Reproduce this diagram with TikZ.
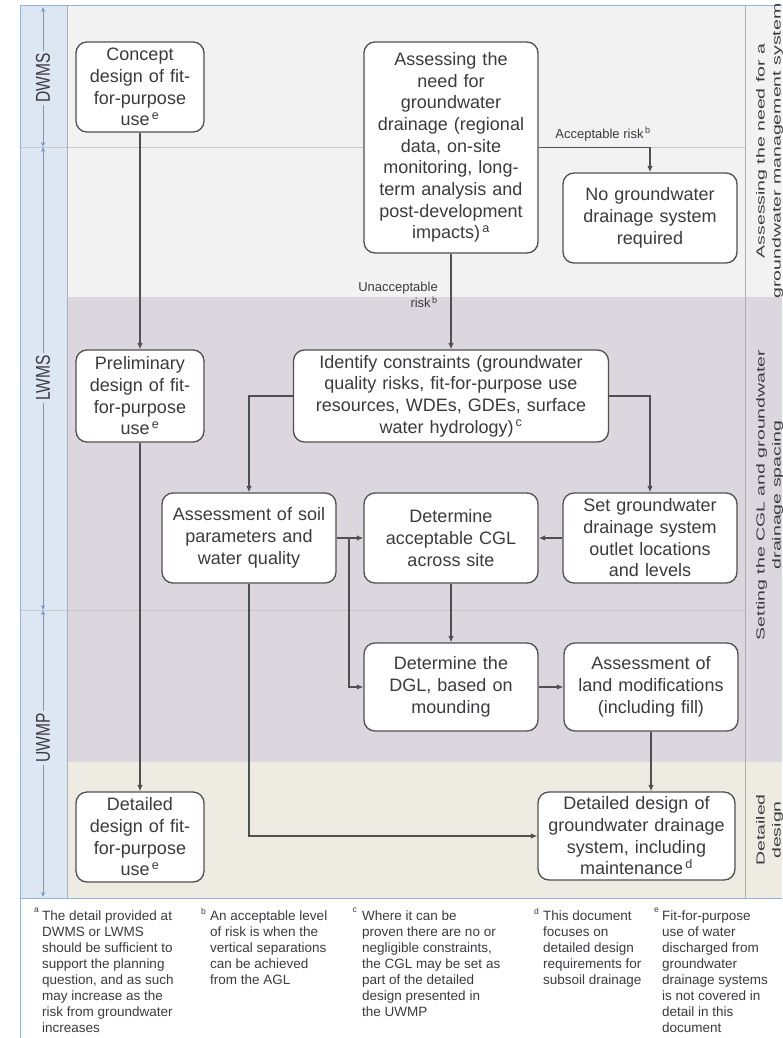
\documentclass[tikz,border=0pt]{standalone}
\usepackage{fontspec}
\setmainfont{Liberation Sans}
\usetikzlibrary{arrows.meta}
\definecolor{txt}{HTML}{3C3A3E}
\definecolor{boxdraw}{HTML}{505050}
\definecolor{bandgray}{HTML}{F2F2F2}
\definecolor{bandlav}{HTML}{DCD7DF}
\definecolor{bandbeige}{HTML}{EEEBE2}
\definecolor{colblue}{HTML}{DDE7F3}
\definecolor{lineblue}{HTML}{95B3D7}
\definecolor{arrblue}{HTML}{6F9BD2}
\definecolor{sepgray}{HTML}{C9C9CC}
\newcommand\fnm[1]{\textsuperscript{\,#1}}
\begin{document}
\begin{tikzpicture}[x=1pt,y=-1pt,
  box/.style={draw=boxdraw, line width=1.3pt, rounded corners=11pt, fill=white,
    align=center, inner sep=0pt, text=txt, font=\fontsize{18}{21.7}\selectfont},
  conn/.style={draw=boxdraw, line width=1.2pt},
  arr/.style={conn, -{Latex[length=6.5pt,width=5.5pt]}},
  lbl/.style={text=txt, inner sep=0pt, font=\fontsize{13}{16}\selectfont},
  fn/.style={text=txt, inner sep=0pt, align=left, font=\fontsize{13.5}{16}\selectfont},
  fnmark/.style={text=txt, inner sep=0pt, font=\fontsize{8.5}{9}\selectfont},
  collbl/.style={fill=colblue, inner sep=2pt, text=txt, font=\fontsize{20}{20}\selectfont},
  rowlbl/.style={inner sep=0pt, text=txt, font=\fontsize{19.5}{26.5}\selectfont},
  frame/.style={draw=lineblue, line width=1pt},
  sep/.style={draw=sepgray, line width=1pt},
  colarr/.style={draw=arrblue, line width=0.6pt, {Stealth[length=5pt,width=4pt]}-{Stealth[length=5pt,width=4pt]}}
]
\useasboundingbox (0,0) rectangle (782,1038);
\fill[white] (0,0) rectangle (782,1038);
% bands
\fill[bandgray] (67,6) rectangle (782,297);
\fill[bandlav] (67,297) rectangle (782,762);
\fill[bandbeige] (67,762) rectangle (782,898);
\fill[colblue] (20,6) rectangle (67,898);
\draw[sep] (20,147) -- (745,147);
\draw[sep] (20,610) -- (745,610);
\draw[frame] (20,6) -- (782,6);
\draw[frame] (20,898) -- (782,898);
\draw[frame] (20,6) -- (20,1038);
\draw[frame] (67,6) -- (67,898);
\draw[frame] (745,6) -- (745,898);

% left column stage arrows
\coordinate (s0) at (43,7);
\coordinate (s1) at (43,147);
\coordinate (s2) at (43,610);
\coordinate (s3) at (43,897);
\draw[colarr] (s0) -- (s1);
\draw[colarr] (s1) -- (s2);
\draw[colarr] (s2) -- (s3);
\node[collbl] (dwms) at (43,78) {\rotatebox{90}{\scalebox{0.78}[1]{DWMS}}};
\node[collbl] (lwms) at (43,378) {\rotatebox{90}{\scalebox{0.78}[1]{LWMS}}};
\node[collbl] (uwmp) at (43,738) {\rotatebox{90}{\scalebox{0.78}[1]{UWMP}}};

% right column labels
\node[rowlbl] (r1) at (769.5,151) {\rotatebox{90}{\scalebox{1}[0.6]{\begin{tabular}{@{}c@{}}Assessing the need for a\\groundwater management system\end{tabular}}}};
\node[rowlbl] (r2) at (769.5,495) {\rotatebox{90}{\scalebox{1}[0.6]{\begin{tabular}{@{}c@{}}Setting the CGL and groundwater\\drainage spacing\end{tabular}}}};
\node[rowlbl] (r3) at (769.5,830) {\rotatebox{90}{\scalebox{1}[0.6]{\begin{tabular}{@{}c@{}}Detailed\\design\end{tabular}}}};

% boxes
\node[box, minimum width=128pt, minimum height=90pt, text width=122pt] (c1) at (140,87)
  {Concept\\design of fit-\\for-purpose\\use\fnm{e}};
\node[box, minimum width=174pt, minimum height=211pt, text width=168pt] (an) at (451,147.5)
  {Assessing the\\need for\\groundwater\\drainage (regional\\data, on-site\\monitoring, long-\\term analysis and\\post-development\\impacts)\fnm{a}};
\node[box, minimum width=174pt, minimum height=90pt, text width=168pt] (ng) at (650,218)
  {No groundwater\\drainage system\\required};
\node[box, minimum width=128pt, minimum height=92pt, text width=122pt] (pd) at (140,396)
  {Preliminary\\design of fit-\\for-purpose\\use\fnm{e}};
\node[box, minimum width=315pt, minimum height=92pt, text width=305pt] (ic) at (451,396)
  {Identify constraints (groundwater\\quality risks, fit-for-purpose use\\resources, WDEs, GDEs, surface\\water hydrology)\fnm{c}};
\node[box, minimum width=174pt, minimum height=90pt, text width=168pt] (as) at (249,538)
  {Assessment of soil\\parameters and\\water quality};
\node[box, minimum width=174pt, minimum height=90pt, text width=168pt] (cgl) at (451,538)
  {Determine\\acceptable CGL\\across site};
\node[box, minimum width=174pt, minimum height=90pt, text width=168pt] (set) at (650,538)
  {Set groundwater\\drainage system\\outlet locations\\and levels};
\node[box, minimum width=174pt, minimum height=88pt, text width=168pt] (dgl) at (451,687)
  {Determine the\\DGL, based on\\mounding};
\node[box, minimum width=174pt, minimum height=88pt, text width=168pt] (land) at (651,687)
  {Assessment of\\land modifications\\(including fill)};
\node[box, minimum width=128pt, minimum height=90pt, text width=122pt] (df) at (140,837)
  {Detailed\\design of fit-\\for-purpose\\use\fnm{e}};
\node[box, minimum width=197pt, minimum height=88pt, text width=190pt] (dd) at (636.5,836)
  {Detailed design of\\groundwater drainage\\system, including\\maintenance\fnm{d}};

% connectors
\draw[arr] (c1) -- (pd);
\draw[arr] (pd) -- (df);
\draw[arr] (an.east) -| (ng.north);
\node[lbl, anchor=south] (lacc) at (603,141) {Acceptable risk\fnm{b}};
\draw[arr] (an) -- (ic);
\node[lbl, align=right, anchor=east] (lunacc) at (438,295) {Unacceptable\\risk\fnm{b}};
\draw[arr] (ic.west) -| (as.north);
\draw[arr] (ic.east) -| (set.north);
\draw[arr] (as) -- (cgl);
\draw[arr] (set) -- (cgl);
\coordinate (br) at (349,538);
\draw[arr] (br) |- (dgl.west);
\draw[arr] (cgl) -- (dgl);
\draw[arr] (dgl) -- (land);
\draw[arr] (land.south) -- (land.south |- dd.north);
\draw[arr] (as.south) |- (dd.west);

% footnotes
\node[fnmark, anchor=north east] (ma) at (39,908) {a};
\node[fn, anchor=north west] (fa) at (42,911) {The detail provided at\\DWMS or LWMS\\should be sufficient to\\support the planning\\question, and as such\\may increase as the\\risk from groundwater\\increases};
\node[fnmark, anchor=north east] (mb) at (206,908) {b};
\node[fn, anchor=north west] (fb) at (210,911) {An acceptable level\\of risk is when the\\vertical separations\\can be achieved\\from the AGL};
\node[fnmark, anchor=north east] (mc) at (357,908) {c};
\node[fn, anchor=north west] (fc) at (362,911) {Where it can be\\proven there are no or\\negligible constraints,\\the CGL may be set as\\part of the detailed\\design presented in\\the UWMP};
\node[fnmark, anchor=north east] (md) at (539,908) {d};
\node[fn, anchor=north west] (fd) at (543,911) {This document\\focuses on\\detailed design\\requirements for\\subsoil drainage};
\node[fnmark, anchor=north east] (me) at (659,908) {e};
\node[fn, anchor=north west] (fe) at (662,911) {Fit-for-purpose\\use of water\\discharged from\\groundwater\\drainage systems\\is not covered in\\detail in this\\document};
\end{tikzpicture}
\end{document}
